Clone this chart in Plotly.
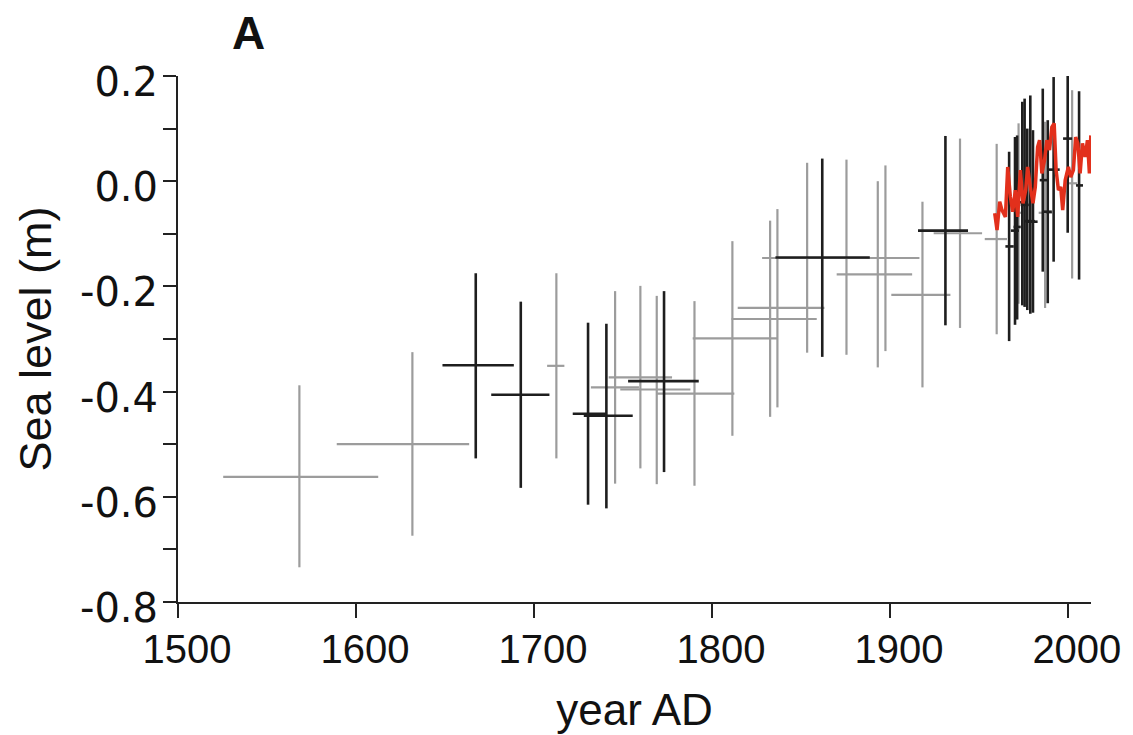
import numpy as np
import plotly.graph_objects as go

# ---- grey reconstructions (age centre, age min/max, level centre, level min/max)
grey_year    = [1568.2, 1631.7, 1712.6, 1745.6, 1759.8, 1769.0, 1790.2, 1811.5, 1832.7, 1836.8,
                1853.5, 1875.6, 1893.2, 1897.5, 1918.3, 1939.4, 1960.0, 1972.3, 1987.2, 2002.4]
grey_year_lo = [1525.4, 1589.2, 1707.4, 1732.0, 1742.0, 1748.5, 1769.2, 1789.2, 1811.0, 1814.5,
                1828.2, 1862.0, 1870.1, 1878.3, 1900.8, 1924.6, 1953.3, 1970.0, 1983.6, 1999.5]
grey_year_hi = [1612.5, 1663.6, 1717.1, 1759.0, 1777.6, 1787.9, 1812.6, 1836.6, 1858.9, 1863.2,
                1878.8, 1889.0, 1912.5, 1916.6, 1934.0, 1951.8, 1965.8, 1974.5, 1991.1, 2005.2]
grey_level    = [-0.562, -0.500, -0.351, -0.392, -0.373, -0.396, -0.404, -0.299, -0.262, -0.241,
                 -0.146, -0.146, -0.177, -0.146, -0.216, -0.099, -0.110, -0.060, -0.060, -0.004]
grey_level_lo = [-0.734, -0.674, -0.527, -0.575, -0.546, -0.576, -0.579, -0.484, -0.448, -0.430,
                 -0.326, -0.330, -0.354, -0.323, -0.392, -0.279, -0.291, -0.233, -0.241, -0.185]
grey_level_hi = [-0.388, -0.325, -0.175, -0.209, -0.199, -0.218, -0.228, -0.114, -0.075, -0.053,
                 0.035, 0.041, 0.000, 0.030, -0.039, 0.081, 0.071, 0.110, 0.113, 0.173]

# ---- black reconstructions
black_year    = [1667.3, 1692.6, 1730.4, 1740.7, 1773.1, 1862.0, 1931.2, 1967.0, 1970.3, 1971.5,
                 1974.4, 1975.7, 1977.2, 1978.9, 1980.4, 1985.9, 1988.7, 1992.0, 1999.9, 2006.3]
black_year_lo = [1648.6, 1676.0, 1721.8, 1728.0, 1752.9, 1835.7, 1915.8, 1964.9, 1968.0, 1969.5,
                 1972.5, 1973.5, 1975.5, 1976.5, 1977.5, 1984.2, 1986.0, 1988.3, 1997.3, 2004.6]
black_year_hi = [1688.7, 1708.7, 1741.0, 1755.5, 1792.6, 1888.7, 1943.9, 1969.6, 1972.5, 1973.5,
                 1976.5, 1978.0, 1979.0, 1981.5, 1983.0, 1988.3, 1991.0, 1995.4, 2002.4, 2008.5]
black_level    = [-0.350, -0.406, -0.442, -0.446, -0.380, -0.145, -0.094, -0.124, -0.094, -0.087,
                  -0.040, -0.045, -0.076, -0.076, -0.077, 0.002, -0.058, 0.022, 0.081, -0.008]
black_level_lo = [-0.527, -0.583, -0.615, -0.622, -0.553, -0.334, -0.274, -0.304, -0.273, -0.263,
                  -0.236, -0.239, -0.245, -0.252, -0.250, -0.172, -0.232, -0.153, -0.098, -0.187]
black_level_hi = [-0.175, -0.229, -0.269, -0.271, -0.209, 0.043, 0.086, 0.056, 0.084, 0.087,
                  0.151, 0.157, 0.100, 0.163, 0.097, 0.176, 0.116, 0.198, 0.263, 0.171]

# ---- tide-gauge record (red)
tg_year  = [1958.9, 1960.2, 1961.7, 1963.0, 1964.9, 1966.2, 1967.7, 1969.0, 1970.5, 1971.8,
            1973.3, 1974.8, 1976.3, 1977.4, 1978.9, 1980.4, 1981.7, 1983.0, 1984.1, 1985.4,
            1986.9, 1988.2, 1989.7, 1991.0, 1992.3, 1993.4, 1994.7, 1996.0, 1997.1, 1998.5,
            1999.4, 2000.3, 2001.6, 2003.1, 2004.4, 2005.6, 2006.9, 2008.2, 2009.7, 2011.0,
            2012.1, 2012.9]
tg_level = [-0.061, -0.093, -0.039, -0.055, -0.068, 0.027, -0.030, -0.058, -0.017, -0.068,
            0.021, -0.042, -0.017, 0.027, -0.011, -0.042, -0.011, 0.065, 0.078, 0.015,
            0.040, 0.078, 0.059, 0.103, 0.110, 0.021, -0.017, -0.011, -0.055, 0.002,
            0.015, 0.027, 0.008, 0.021, 0.084, 0.072, 0.015, 0.072, 0.046, 0.078,
            0.015, 0.087]

x_ticks = [1500, 1600, 1700, 1800, 1900, 2000]
y_ticks = [0.2, 0.1, 0.0, -0.1, -0.2, -0.3, -0.4, -0.5, -0.6, -0.7, -0.8]
y_ticktext = ["0.2", "", "0.0", "", "-0.2", "", "-0.4", "", "-0.6", "", "-0.8"]

GREY = "#9c9c9c"
BLACK = "#1e1e1e"
RED = "#e2301c"


def bar_trace(yr, lo, hi, lev, llo, lhi, color, thick):
    yr, lo, hi = np.array(yr), np.array(lo), np.array(hi)
    lev, llo, lhi = np.array(lev), np.array(llo), np.array(lhi)
    return go.Scatter(
        x=yr, y=lev, mode="markers",
        marker=dict(size=1, color="rgba(0,0,0,0)"),
        error_x=dict(type="data", symmetric=False, array=hi - yr, arrayminus=yr - lo,
                     width=0, thickness=thick, color=color),
        error_y=dict(type="data", symmetric=False, array=lhi - lev, arrayminus=lev - llo,
                     width=0, thickness=thick, color=color),
        showlegend=False, hoverinfo="skip",
    )


fig = go.Figure()
fig.add_trace(bar_trace(grey_year, grey_year_lo, grey_year_hi,
                        grey_level, grey_level_lo, grey_level_hi, GREY, 2.2))
fig.add_trace(bar_trace(black_year, black_year_lo, black_year_hi,
                        black_level, black_level_lo, black_level_hi, BLACK, 2.6))
fig.add_trace(go.Scatter(x=tg_year, y=tg_level, mode="lines",
                         line=dict(color=RED, width=3.5), showlegend=False, hoverinfo="skip"))

ARIAL = "Liberation Sans, Arial, sans-serif"
WIDE = "DejaVu Sans, Liberation Sans, sans-serif"
fig.update_layout(
    width=1133, height=735,
    margin=dict(l=170, r=50, t=68, b=141),
    paper_bgcolor="white", plot_bgcolor="white",
    font=dict(family=ARIAL, color="#111111"),
    xaxis=dict(range=[1500, 2013], tickvals=x_ticks, ticks="outside", ticklen=14,
               tickwidth=2, tickcolor="#222", showline=True, linecolor="#222", linewidth=2,
               showgrid=False, zeroline=False, tickfont=dict(size=40, family=ARIAL),
               ticklabelstandoff=-3, ticklabelshift=9,
               title=dict(text="year AD", font=dict(size=44, family=ARIAL), standoff=24)),
    yaxis=dict(range=[-0.8, 0.2], tickvals=y_ticks, ticktext=y_ticktext, ticks="outside",
               ticklen=13, tickwidth=2, tickcolor="#222", showline=True, linecolor="#222",
               linewidth=2, showgrid=False, zeroline=False, tickfont=dict(size=40, family=WIDE),
               ticklabelstandoff=-3, ticklabelshift=6,
               title=dict(text="Sea level (m)", font=dict(size=45, family=ARIAL), standoff=14)),
    annotations=[dict(text="<b>A</b>", xref="paper", yref="paper", x=0.0767, y=1 + 68 / 526,
                      xanchor="center", yanchor="top", yshift=3, showarrow=False,
                      font=dict(size=46, family=ARIAL, color="#111"))],
)

fig.write_html("out.html")
